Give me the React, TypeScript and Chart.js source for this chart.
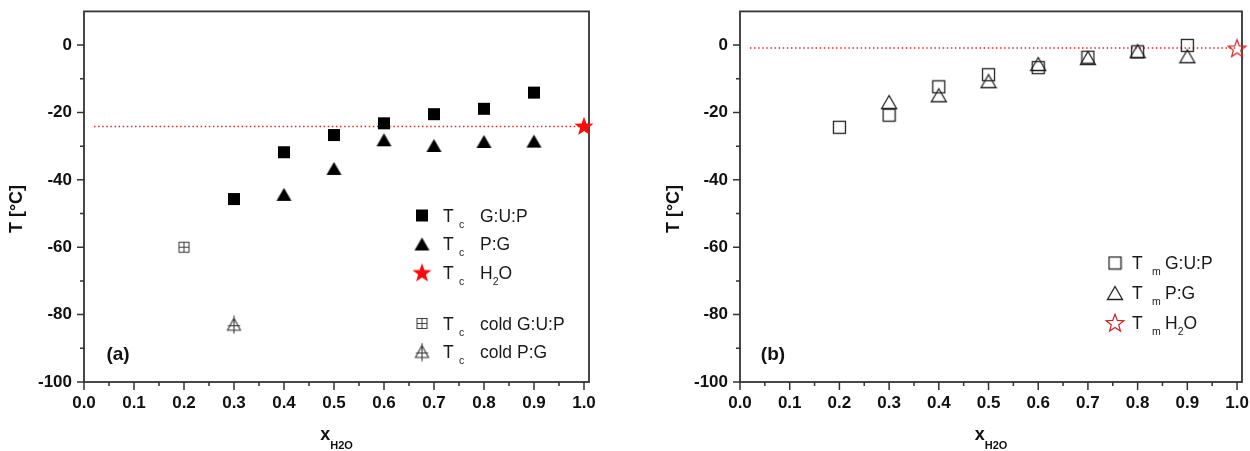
import React, { useEffect, useRef } from 'react';
import { Chart, registerables } from 'chart.js';

Chart.register(...registerables);

// ---------- data ----------
const xTickValues = [0, 0.1, 0.2, 0.3, 0.4, 0.5, 0.6, 0.7, 0.8, 0.9, 1.0];
const yTickValues = [-100, -80, -60, -40, -20, 0];

// panel (a) crystallisation temperatures Tc
const xA_GUP = [0.3, 0.4, 0.5, 0.6, 0.7, 0.8, 0.9];
const TcGUP = [-45.7, -31.8, -26.7, -23.2, -20.5, -18.9, -14.1];
const xA_PG = [0.4, 0.5, 0.6, 0.7, 0.8, 0.9];
const TcPG = [-44.3, -36.6, -28.1, -29.8, -28.6, -28.5];
const xA_H2O = [1.0];
const TcH2O = [-24.0];
const xA_coldGUP = [0.2];
const TcColdGUP = [-60.0];
const xA_coldPG = [0.3];
const TcColdPG = [-83.0];
const refLineX = [0.02, 1.0];
const TcRefLine = [-24.2, -24.2];

// panel (b) melting temperatures Tm
const xB_GUP = [0.2, 0.3, 0.4, 0.5, 0.6, 0.7, 0.8, 0.9];
const TmGUP = [-24.4, -20.8, -12.4, -8.8, -6.7, -3.6, -2.0, -0.1];
const xB_PG = [0.3, 0.4, 0.5, 0.6, 0.7, 0.8, 0.9];
const TmPG = [-16.9, -14.9, -10.7, -5.6, -3.8, -1.8, -3.3];
const xB_H2O = [1.0];
const TmH2O = [-1.0];
const TmRefLine = [-0.9, -0.9];

// legends
const legendA_sub = ['c', 'c', 'c', 'c', 'c'];
const legendA_text = ['G:U:P', 'P:G', 'H_2O', 'cold G:U:P', 'cold P:G'];
const legendB_sub = ['m', 'm', 'm'];
const legendB_text = ['G:U:P', 'P:G', 'H_2O'];

const xTitle = 'x_{H2O}';
const yTitle = 'T [°C]';

// ---------- styling helpers ----------
const FAMILY = "'Liberation Sans', Arial, Helvetica, sans-serif";
const AXIS = '#333333';
const TXT = '#1a1a1a';

type Seg = { t: string; sub?: boolean };
function parseRich(s: string): Seg[] {
  const out: Seg[] = [];
  let buf = '';
  let i = 0;
  while (i < s.length) {
    if (s[i] === '_') {
      if (buf) { out.push({ t: buf }); buf = ''; }
      if (s[i + 1] === '{') {
        const j = s.indexOf('}', i);
        out.push({ t: s.slice(i + 2, j), sub: true });
        i = j + 1;
      } else {
        out.push({ t: s[i + 1], sub: true });
        i += 2;
      }
    } else {
      buf += s[i];
      i++;
    }
  }
  if (buf) out.push({ t: buf });
  return out;
}

function richWidth(ctx: CanvasRenderingContext2D, segs: Seg[], size: number, sub: number, weight: string) {
  let w = 0;
  for (const s of segs) {
    ctx.font = `${weight} ${s.sub ? sub : size}px ${FAMILY}`;
    w += ctx.measureText(s.t).width;
  }
  return w;
}

function drawRich(ctx: CanvasRenderingContext2D, x: number, y: number, segs: Seg[], size: number, sub: number, drop: number, weight: string) {
  let cx = x;
  ctx.textBaseline = 'alphabetic';
  ctx.textAlign = 'left';
  for (const s of segs) {
    ctx.font = `${weight} ${s.sub ? sub : size}px ${FAMILY}`;
    ctx.fillText(s.t, cx, s.sub ? y + drop : y);
    cx += ctx.measureText(s.t).width;
  }
}

function mk(w: number, h: number, draw: (c: CanvasRenderingContext2D) => void) {
  const c = document.createElement('canvas');
  c.width = w;
  c.height = h;
  const ctx = c.getContext('2d')!;
  draw(ctx);
  return c;
}

function starPath(ctx: CanvasRenderingContext2D, cx: number, cy: number, ro: number, ri: number) {
  ctx.beginPath();
  for (let k = 0; k < 10; k++) {
    const r = k % 2 === 0 ? ro : ri;
    const a = -Math.PI / 2 + (k * Math.PI) / 5;
    const px = cx + r * Math.cos(a);
    const py = cy + r * Math.sin(a);
    if (k === 0) ctx.moveTo(px, py); else ctx.lineTo(px, py);
  }
  ctx.closePath();
}

function makeMarkers() {
  const sqFill = mk(14, 14, (c) => { c.fillStyle = '#000'; c.fillRect(1, 1, 12, 12); });
  const triFill = mk(17, 15, (c) => {
    c.fillStyle = '#000';
    c.beginPath(); c.moveTo(8.5, 1); c.lineTo(16, 14); c.lineTo(1, 14); c.closePath(); c.fill();
  });
  const starFill = mk(22, 22, (c) => { c.fillStyle = '#ff0a0a'; starPath(c, 11, 11.8, 10, 4.1); c.fill(); });
  const sqCold = mk(13, 13, (c) => {
    c.strokeStyle = '#444'; c.lineWidth = 1.1;
    c.strokeRect(1.5, 1.5, 10, 10);
    c.beginPath(); c.moveTo(6.5, 1.5); c.lineTo(6.5, 11.5); c.moveTo(1.5, 6.5); c.lineTo(11.5, 6.5); c.stroke();
  });
  const triCold = mk(17, 19, (c) => {
    c.strokeStyle = '#333'; c.lineWidth = 1.1;
    c.beginPath(); c.moveTo(8.5, 3); c.lineTo(15, 15); c.lineTo(2, 15); c.closePath(); c.stroke();
    c.beginPath(); c.moveTo(8.5, 0.5); c.lineTo(8.5, 18.5); c.moveTo(2.5, 10.5); c.lineTo(14.5, 10.5); c.stroke();
  });
  const sqOpen = mk(15, 15, (c) => { c.strokeStyle = '#222'; c.lineWidth = 1.3; c.strokeRect(1.5, 1.5, 12, 12); });
  const triOpen = mk(18, 16, (c) => {
    c.strokeStyle = '#222'; c.lineWidth = 1.3;
    c.beginPath(); c.moveTo(9, 1.5); c.lineTo(16.5, 14.5); c.lineTo(1.5, 14.5); c.closePath(); c.stroke();
  });
  const starOpen = mk(22, 22, (c) => { c.strokeStyle = '#d42020'; c.lineWidth = 1.2; starPath(c, 11, 11.6, 9.3, 3.9); c.stroke(); });
  return { sqFill, triFill, starFill, sqCold, triCold, sqOpen, triOpen, starOpen };
}

const pts = (xs: number[], ys: number[]) => xs.map((x, i) => ({ x, y: ys[i] }));
const minors = (vals: number[]) => vals.slice(1).map((v, i) => (v + vals[i]) / 2);

type LegendCfg = { syms: HTMLCanvasElement[]; subs: string[]; texts: string[]; symX: number; tX: number; subX: number; textX: number; rows: number[] };
type PanelCfg = {
  datasets: any[];
  yAxisWidth: number;
  padRight: number;
  legend: LegendCfg;
  yTitleX: number;
  panelLabel: string;
  panelLabelX: number;
};

function makeDecor(p: PanelCfg) {
  return {
    id: 'decor',
    beforeDatasetsDraw(chart: any) {
      const { ctx, chartArea: a, scales } = chart;
      const x = scales.x;
      const y = scales.y;
      ctx.save();
      ctx.strokeStyle = AXIS;
      ctx.lineWidth = 1.8;
      ctx.strokeRect(a.left, a.top, a.right - a.left, a.bottom - a.top);
      ctx.lineWidth = 1.5;
      ctx.beginPath();
      xTickValues.forEach((v) => { const px = x.getPixelForValue(v); ctx.moveTo(px, a.bottom); ctx.lineTo(px, a.bottom + 8); });
      minors(xTickValues).forEach((v) => { const px = x.getPixelForValue(v); ctx.moveTo(px, a.bottom); ctx.lineTo(px, a.bottom + 4); });
      yTickValues.forEach((v) => { const py = y.getPixelForValue(v); ctx.moveTo(a.left, py); ctx.lineTo(a.left - 7, py); });
      minors(yTickValues).forEach((v) => { const py = y.getPixelForValue(v); ctx.moveTo(a.left, py); ctx.lineTo(a.left - 4, py); });
      ctx.stroke();
      ctx.restore();
    },
    afterDraw(chart: any) {
      const { ctx, chartArea: a } = chart;
      ctx.save();
      ctx.fillStyle = TXT;
      // legend
      const L = p.legend;
      L.rows.forEach((ry, i) => {
        const img = L.syms[i];
        ctx.drawImage(img, L.symX - img.width / 2, ry - img.height / 2);
        const base = ry + 6.3;
        ctx.fillStyle = TXT;
        ctx.font = `normal 17.5px ${FAMILY}`;
        ctx.textAlign = 'left';
        ctx.textBaseline = 'alphabetic';
        ctx.fillText('T', L.tX, base);
        ctx.font = `normal 10.5px ${FAMILY}`;
        ctx.fillText(L.subs[i], L.subX, base + 6);
        drawRich(ctx, L.textX, base, parseRich(L.texts[i]), 17.5, 10.5, 6, 'normal');
      });
      // x title
      ctx.fillStyle = '#111';
      const xs = parseRich(xTitle);
      const w = richWidth(ctx, xs, 18, 11, 'bold');
      drawRich(ctx, (a.left + a.right) / 2 - w / 2, a.bottom + 58, xs, 18, 11, 9, 'bold');
      // y title
      ctx.save();
      ctx.translate(p.yTitleX, 209);
      ctx.rotate(-Math.PI / 2);
      ctx.font = `bold 18px ${FAMILY}`;
      ctx.textAlign = 'center';
      ctx.textBaseline = 'middle';
      ctx.fillText(yTitle, 0, 0);
      ctx.restore();
      // panel label
      ctx.font = `bold 19px ${FAMILY}`;
      ctx.textAlign = 'center';
      ctx.textBaseline = 'middle';
      ctx.fillText(p.panelLabel, p.panelLabelX, 355);
      ctx.restore();
    },
  };
}

function Panel({ cfg }: { cfg: () => PanelCfg }) {
  const ref = useRef<HTMLCanvasElement | null>(null);
  useEffect(() => {
    if (!ref.current) return;
    const p = cfg();
    const tickFont = { family: FAMILY, size: 17, weight: 'bold' as const };
    const chart = new Chart(ref.current, {
      type: 'scatter',
      data: { datasets: p.datasets },
      options: {
        responsive: false,
        animation: false,
        events: [],
        layout: { padding: { left: 0, right: p.padRight, top: 11.4, bottom: 0 } },
        plugins: { legend: { display: false }, tooltip: { enabled: false } },
        scales: {
          x: {
            type: 'linear',
            min: 0,
            max: 1.01,
            grid: { display: false, drawTicks: false },
            border: { display: false },
            ticks: { padding: 11, autoSkip: false, maxRotation: 0, font: tickFont, color: '#111', callback: (v: any) => Number(v).toFixed(1) },
            afterBuildTicks: (s: any) => { s.ticks = xTickValues.map((v) => ({ value: v })); },
            afterFit: (s: any) => { s.height = 69; s.paddingLeft = 0; s.paddingRight = 0; },
          },
          y: {
            type: 'linear',
            min: -100,
            max: 10,
            grid: { display: false, drawTicks: false },
            border: { display: false },
            ticks: { padding: 12, autoSkip: false, font: tickFont, color: '#111', callback: (v: any) => String(v) },
            afterBuildTicks: (s: any) => { s.ticks = yTickValues.map((v) => ({ value: v })); },
            afterFit: (s: any) => { s.width = p.yAxisWidth; s.paddingTop = 0; s.paddingBottom = 0; },
          },
        },
      } as any,
      plugins: [makeDecor(p) as any],
    });
    return () => chart.destroy();
  }, []);
  return <canvas ref={ref} width={625} height={451} style={{ display: 'block' }} />;
}

function cfgA(): PanelCfg {
  const m = makeMarkers();
  const pt = (style: HTMLCanvasElement) => ({ pointStyle: style, pointRadius: 7, clip: false, showLine: false });
  return {
    datasets: [
      { label: 'Tc G:U:P', data: pts(xA_GUP, TcGUP), ...pt(m.sqFill) },
      { label: 'Tc P:G', data: pts(xA_PG, TcPG), ...pt(m.triFill) },
      { label: 'Tc H2O', data: pts(xA_H2O, TcH2O), ...pt(m.starFill) },
      { label: 'Tc cold G:U:P', data: pts(xA_coldGUP, TcColdGUP), ...pt(m.sqCold) },
      { label: 'Tc cold P:G', data: pts(xA_coldPG, TcColdPG), ...pt(m.triCold) },
      { label: 'ref', data: pts(refLineX, TcRefLine), showLine: true, pointRadius: 0, borderColor: '#e02a2a', borderWidth: 1.5, borderDash: [1.5, 2.6], clip: false },
    ],
    yAxisWidth: 84,
    padRight: 36,
    legend: { syms: [m.sqFill, m.triFill, m.starFill, m.sqCold, m.triCold], subs: legendA_sub, texts: legendA_text, symX: 422, tX: 443, subX: 459, textX: 480, rows: [215.5, 244, 272.5, 323.5, 352] },
    yTitleX: 17,
    panelLabel: '(a)',
    panelLabelX: 118,
  };
}

function cfgB(): PanelCfg {
  const m = makeMarkers();
  const pt = (style: HTMLCanvasElement) => ({ pointStyle: style, pointRadius: 7, clip: false, showLine: false });
  return {
    datasets: [
      { label: 'Tm G:U:P', data: pts(xB_GUP, TmGUP), ...pt(m.sqOpen) },
      { label: 'Tm P:G', data: pts(xB_PG, TmPG), ...pt(m.triOpen) },
      { label: 'Tm H2O', data: pts(xB_H2O, TmH2O), ...pt(m.starOpen) },
      { label: 'ref', data: pts(refLineX, TmRefLine), showLine: true, pointRadius: 0, borderColor: '#e02a2a', borderWidth: 1.5, borderDash: [1.5, 2.6], clip: false },
    ],
    yAxisWidth: 115,
    padRight: 7,
    legend: { syms: [m.sqOpen, m.triOpen, m.starOpen], subs: legendB_sub, texts: legendB_text, symX: 490, tX: 507, subX: 527, textX: 540, rows: [263, 293, 323] },
    yTitleX: 49,
    panelLabel: '(b)',
    panelLabelX: 148,
  };
}

export default function App() {
  return (
    <div style={{ position: 'absolute', left: 0, top: 0, width: 1250, height: 451, display: 'flex', background: '#fff', overflow: 'hidden' }}>
      <Panel cfg={cfgA} />
      <Panel cfg={cfgB} />
    </div>
  );
}
